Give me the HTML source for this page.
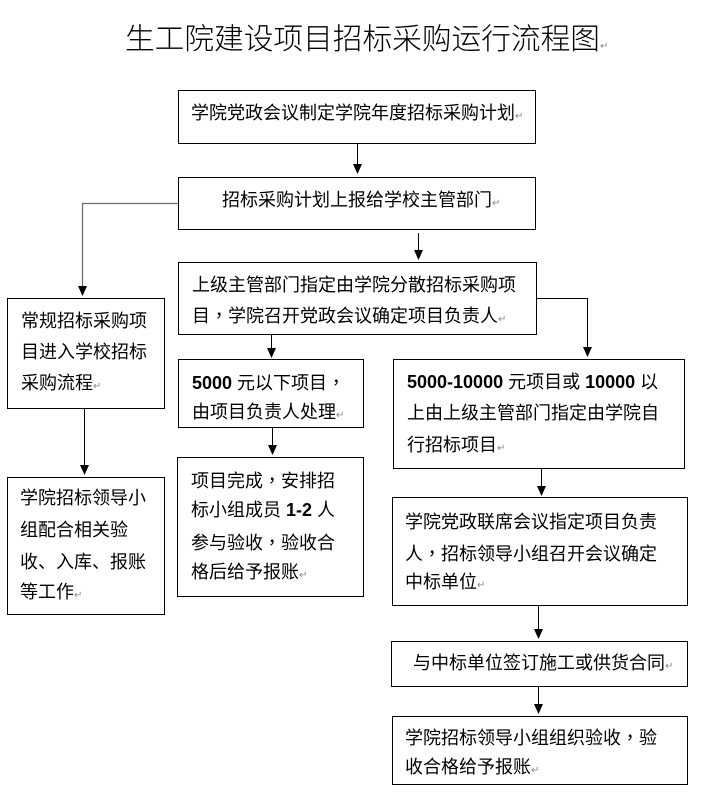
<!DOCTYPE html>
<html><head><meta charset="utf-8">
<style>
html,body{margin:0;padding:0;background:#fff;}
body{width:722px;height:796px;position:relative;overflow:hidden;}
.t{position:absolute;white-space:nowrap;font-family:"Liberation Sans","Noto Sans CJK SC",sans-serif;font-size:18px;line-height:30px;height:30px;color:#000;}
.b{font-weight:bold;font-size:18px;}
.r{font-size:10px;color:#888;}
.c{font-family:"Noto Sans CJK TC",sans-serif;}
.title{position:absolute;left:125px;top:23px;white-space:nowrap;font-family:"Liberation Sans","Noto Sans CJK SC",sans-serif;font-size:29.7px;line-height:33px;font-weight:300;color:#000;}
svg{position:absolute;left:0;top:0;}
</style></head><body>
<svg width="722" height="796" viewBox="0 0 722 796">
<g fill="none" stroke="#000" stroke-width="1">
<rect x="178.5" y="90.5" width="357" height="53"/>
<rect x="178.5" y="177.5" width="357" height="52"/>
<rect x="178.5" y="262.5" width="358" height="72"/>
<rect x="7.5" y="298.5" width="157" height="110"/>
<rect x="7.5" y="477.5" width="157" height="137"/>
<rect x="178.5" y="359.5" width="185" height="68"/>
<rect x="177.5" y="457.5" width="186" height="139"/>
<rect x="393.5" y="359.5" width="291" height="109"/>
<rect x="392.5" y="497.5" width="295" height="108"/>
<rect x="391.5" y="641.5" width="296" height="45"/>
<rect x="392.5" y="716.5" width="295" height="68"/>
<line x1="357.5" y1="144" x2="357.5" y2="166"/>
<line x1="418.5" y1="233" x2="418.5" y2="252"/>
<line x1="271.5" y1="335" x2="271.5" y2="350"/>
<line x1="84.5" y1="409" x2="84.5" y2="467"/>
<line x1="272.5" y1="427" x2="272.5" y2="447"/>
<line x1="541.5" y1="468" x2="541.5" y2="488"/>
<line x1="538.5" y1="605" x2="538.5" y2="631"/>
<line x1="538.5" y1="686" x2="538.5" y2="706"/>
<polyline points="537,298.5 587.5,298.5 587.5,349"/>
</g>
<polyline points="178,203.5 82.5,203.5 82.5,288" fill="none" stroke="#6a6a6a" stroke-width="1.2"/>
<g fill="#000">
<polygon points="353,164 362,164 357.5,174"/>
<polygon points="414,250 423,250 418.5,260"/>
<polygon points="78,286 87,286 82.5,296"/>
<polygon points="267,348 276,348 271.5,358"/>
<polygon points="583,347 592,347 587.5,357"/>
<polygon points="80,465 89,465 84.5,475"/>
<polygon points="268,445 277,445 272.5,455"/>
<polygon points="537,486 546,486 541.5,496"/>
<polygon points="534,629 543,629 538.5,639"/>
<polygon points="534,704 543,704 538.5,714"/>
</g>
</svg>

<div class="title">生工院建设项目招标采购运行流程图<span class="r">↵</span></div>

<div class="t" style="left:191px;top:98px;">学院党政会议制定学院年度招标采购计划<span class="r">↵</span></div>
<div class="t" style="left:222px;top:185px;">招标采购计划上报给学校主管部门<span class="r">↵</span></div>

<div class="t" style="left:192px;top:270px;">上级主管部门指定由学院分散招标采购项</div>
<div class="t" style="left:192px;top:300px;">目<span class="c">，</span>学院召开党政会议确定项目负责人<span class="r">↵</span></div>

<div class="t" style="left:21px;top:306px;">常规招标采购项</div>
<div class="t" style="left:21px;top:337px;">目进入学校招标</div>
<div class="t" style="left:21px;top:368px;">采购流程<span class="r">↵</span></div>

<div class="t" style="left:20px;top:483px;">学院招标领导小</div>
<div class="t" style="left:20px;top:515px;">组配合相关验</div>
<div class="t" style="left:20px;top:547px;">收、入库、报账</div>
<div class="t" style="left:20px;top:577px;">等工作<span class="r">↵</span></div>

<div class="t" style="left:192px;top:367px;"><span class="b">5000</span> 元以下项目<span class="c">，</span></div>
<div class="t" style="left:192px;top:397px;">由项目负责人处理<span class="r">↵</span></div>

<div class="t" style="left:191px;top:465px;">项目完成<span class="c">，</span>安排招</div>
<div class="t" style="left:191px;top:495px;">标小组成员 <span class="b">1-2</span> 人</div>
<div class="t" style="left:191px;top:527px;">参与验收<span class="c">，</span>验收合</div>
<div class="t" style="left:191px;top:557px;">格后给予报账<span class="r">↵</span></div>

<div class="t" style="left:407px;top:367px;"><span class="b">5000-10000</span> 元项目或 <span class="b">10000</span> 以</div>
<div class="t" style="left:407px;top:398px;">上由上级主管部门指定由学院自</div>
<div class="t" style="left:407px;top:430px;">行招标项目<span class="r">↵</span></div>

<div class="t" style="left:405px;top:507px;">学院党政联席会议指定项目负责</div>
<div class="t" style="left:405px;top:538px;">人<span class="c">，</span>招标领导小组召开会议确定</div>
<div class="t" style="left:405px;top:567px;">中标单位<span class="r">↵</span></div>

<div class="t" style="left:413px;top:648px;">与中标单位签订施工或供货合同<span class="r">↵</span></div>

<div class="t" style="left:405px;top:722px;">学院招标领导小组组织验收<span class="c">，</span>验</div>
<div class="t" style="left:405px;top:752px;">收合格给予报账<span class="r">↵</span></div>
</body></html>
